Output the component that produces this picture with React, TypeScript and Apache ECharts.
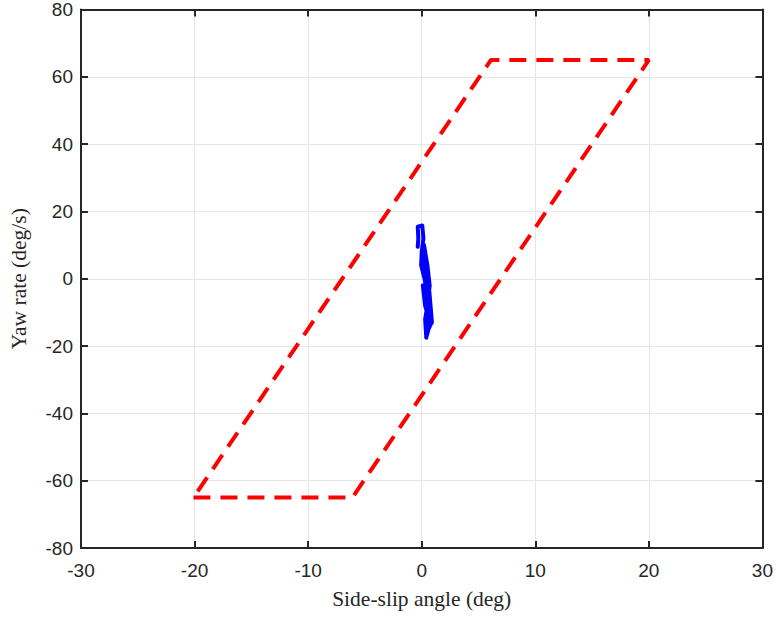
import React, { useEffect, useRef } from "react";
import * as echarts from "echarts";

const xTicks = [-30, -20, -10, 0, 10, 20, 30];
const yTicks = [-80, -60, -40, -20, 0, 20, 40, 60, 80];

// Stability envelope (parallelogram), closed
const envelopeX = [-20.1, -6.1, 20.0, 6.1, -20.1];
const envelopeY = [-65, -65, 65, 65, -65];

// Vehicle trajectory (side-slip angle, yaw rate)
const trajX = [-0.35, -0.3, -0.35, 0.05, 0.15, 0.0, -0.05, 0.25, 0.45, 0.3, 0.1, 0.4, 0.6, 0.35, 0.1, 0.3, 0.55, 0.8, 0.6, 0.4, 0.3, 0.55, 0.7, 0.5, 0.2, 0.35, 0.6, 0.9, 0.7, 0.45, 0.35];
const trajY = [9.5, 12, 15.5, 15.8, 12, 8, 4, 0, -4, 2, 6, 3, -3, -6, -2, -8, -11, -13.5, -15, -17.5, -12, -7, -2, 4, 10, 6, -1, -13, -14, -9, -15];

export default function App() {
  const ref = useRef<HTMLDivElement>(null);
  useEffect(() => {
    if (!ref.current) return;
    const chart = echarts.init(ref.current, undefined, { renderer: "svg" });
    const axisLine = { show: true, onZero: false, lineStyle: { color: "#262626", width: 2 } };
    const axisTick = { show: true, inside: true, length: 7, lineStyle: { color: "#262626", width: 2 } };
    const tickLabel = { color: "#262626", fontSize: 19, fontFamily: "Liberation Sans" };
    const nameStyle = { fontFamily: "Liberation Serif", fontSize: 21.5, color: "#262626" };
    chart.setOption({
      animation: false,
      backgroundColor: "#ffffff",
      grid: { left: 81, right: 12, top: 9, bottom: 69, containLabel: false },
      xAxis: [
        {
          type: "value",
          min: -30,
          max: 30,
          interval: 10,
          position: "bottom",
          name: "Side-slip angle (deg)",
          nameLocation: "middle",
          nameGap: 40,
          nameTextStyle: nameStyle,
          axisLine,
          axisTick,
          axisLabel: { ...tickLabel, margin: 13, formatter: (v: number) => (xTicks.includes(v) ? String(v) : "") },
          splitLine: { show: true, lineStyle: { color: "#e6e6e6", width: 1 } },
        },
        {
          type: "value",
          min: -30,
          max: 30,
          interval: 10,
          position: "top",
          axisLine,
          axisTick,
          axisLabel: { show: false },
          splitLine: { show: false },
        },
      ],
      yAxis: [
        {
          type: "value",
          min: -80,
          max: 80,
          interval: 20,
          position: "left",
          name: "Yaw rate (deg/s)",
          nameLocation: "middle",
          nameGap: 51,
          nameRotate: 90,
          nameTextStyle: nameStyle,
          axisLine,
          axisTick,
          axisLabel: { ...tickLabel, margin: 8, formatter: (v: number) => (yTicks.includes(v) ? String(v) : "") },
          splitLine: { show: true, lineStyle: { color: "#e6e6e6", width: 1 } },
        },
        {
          type: "value",
          min: -80,
          max: 80,
          interval: 20,
          position: "right",
          axisLine,
          axisTick,
          axisLabel: { show: false },
          splitLine: { show: false },
        },
      ],
      series: [
        {
          type: "line",
          data: envelopeX.map((x, i) => [x, envelopeY[i]]),
          showSymbol: false,
          symbol: "none",
          lineStyle: { color: "#ff0000", width: 4, type: [17, 10] },
          z: 3,
        },
        {
          type: "line",
          data: trajX.map((x, i) => [x, trajY[i]]),
          showSymbol: false,
          symbol: "none",
          lineStyle: { color: "#0000ff", width: 4, join: "round", cap: "round" },
          z: 4,
        },
      ],
    });
    return () => chart.dispose();
  }, []);
  return (
    <div
      ref={ref}
      style={{ position: "fixed", left: 0, top: 0, width: 776, height: 617, background: "#fff" }}
    />
  );
}
